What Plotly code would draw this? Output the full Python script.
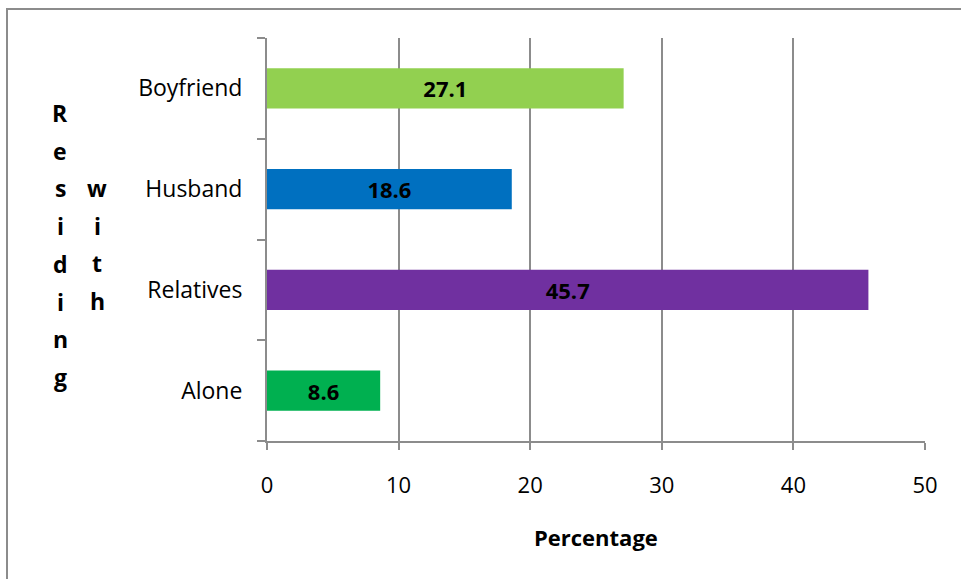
import plotly.graph_objects as go

categories = ["Alone", "Relatives", "Husband", "Boyfriend"]
values = [8.6, 45.7, 18.6, 27.1]
colors = ["#00B050", "#7030A0", "#0070C0", "#92D050"]
x_ticks = [0, 10, 20, 30, 40, 50]
x_title = "Percentage"
y_title_col1 = "Residing"
y_title_col2 = "with"

FONT = "Open Sans, Liberation Sans, sans-serif"

fig = go.Figure(go.Bar(
    y=categories, x=values, orientation="h",
    marker=dict(color=colors, line=dict(width=0)),
    width=0.4,
    text=[f"{v:.1f}" for v in values],
    textposition="inside", insidetextanchor="middle", textangle=0,
    textfont=dict(family=FONT, size=22, color="black", weight="bold"),
    constraintext="none",
    hoverinfo="skip",
))

fig.update_layout(
    width=961, height=579,
    margin=dict(l=267, r=36, t=38, b=138),
    paper_bgcolor="white", plot_bgcolor="white",
    showlegend=False,
    font=dict(family=FONT, size=22, color="black"),
    xaxis=dict(
        range=[0, 50], tickvals=x_ticks, ticks="outside", ticklen=7,
        tickcolor="#8c8c8c", tickwidth=2,
        showgrid=True, gridcolor="#8c8c8c", gridwidth=1.5,
        showline=True, linecolor="#8c8c8c", linewidth=2,
        zeroline=False, ticklabelstandoff=17,
        tickfont=dict(family=FONT, size=22),
    ),
    yaxis=dict(
        categoryorder="array", categoryarray=categories,
        ticks="outside", tickson="boundaries", ticklen=8,
        tickcolor="#8c8c8c", tickwidth=2,
        showline=True, linecolor="#8c8c8c", linewidth=2,
        showgrid=False, zeroline=False, ticklabelstandoff=18,
        tickfont=dict(family=FONT, size=23),
    ),
)

annotations = []
for i, ch in enumerate(y_title_col1):
    annotations.append(dict(x=60, y=113 + i * 37.7, text=ch))
for i, ch in enumerate(y_title_col2):
    annotations.append(dict(x=97, y=188 + i * 37.7, text=ch))
pw = 961 - 267 - 36
ph = 579 - 38 - 138
for a in annotations:
    px, py = a["x"], a["y"]
    a["x"] = (px - 267) / pw
    a["y"] = 1 - (py - 38) / ph
    a["xref"] = "paper"
    a["yref"] = "paper"
    a["showarrow"] = False
    a["xanchor"] = "center"
    a["yanchor"] = "middle"
    a["font"] = dict(family=FONT, size=23, color="black", weight="bold")
annotations.append(dict(x=(596 - 267) / pw, y=1 - (537 - 38) / ph,
                        xref="paper", yref="paper", text=x_title, showarrow=False,
                        xanchor="center", yanchor="middle",
                        font=dict(family=FONT, size=22, color="black", weight="bold")))
fig.update_layout(annotations=annotations)

# outer chart border
fig.add_shape(type="rect", xref="paper", yref="paper",
              x0=(7 - 267) / pw, x1=(975 - 267) / pw,
              y0=1 - (600 - 38) / ph, y1=1 - (9 - 38) / ph,
              line=dict(color="#8c8c8c", width=2), layer="below")

fig.write_html("out.html")
